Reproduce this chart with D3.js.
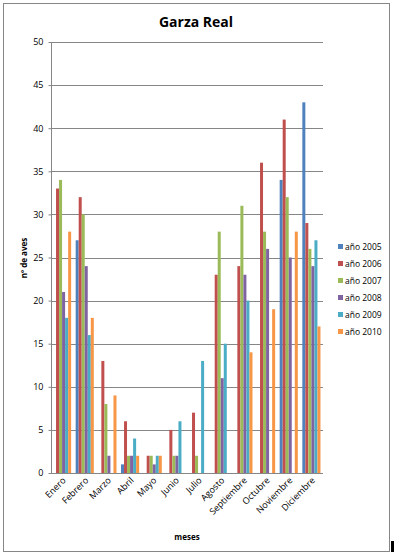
<!DOCTYPE html>
<html lang="en">
<head>
    <title>Garza Real</title>
    <script src="https://d3js.org/d3.v7.min.js"></script>
    <style>
        body { margin: 0; background: #fff; }
        text { font-family: "Open Sans", "DejaVu Sans", sans-serif; }
    </style>
</head>
<body>

<script>
    const meses = ["Enero", "Febrero", "Marzo", "Abril", "Mayo", "Junio", "Julio",
        "Agosto", "Septiembre", "Octubre", "Noviembre", "Diciembre"];
    const series = ["año 2005", "año 2006", "año 2007", "año 2008", "año 2009", "año 2010"];

    const ano2005 = [null, 27, null, 1, null, null, null, null, null, null, 34, 43];
    const ano2006 = [33, 32, 13, 6, 2, 5, 7, 23, 24, 36, 41, 29];
    const ano2007 = [34, 30, 8, 2, 2, 2, 2, 28, 31, 28, 32, 26];
    const ano2008 = [21, 24, 2, 2, 1, 2, null, 11, 23, 26, 25, 24];
    const ano2009 = [18, 16, null, 4, 2, 6, 13, 15, 20, null, null, 27];
    const ano2010 = [28, 18, 9, 2, 2, null, null, null, 14, 19, 28, 17];
    const yTicks = [0, 5, 10, 15, 20, 25, 30, 35, 40, 45, 50];

    const values = [ano2005, ano2006, ano2007, ano2008, ano2009, ano2010];
    const colors = ["#4F81BD", "#C0504D", "#9BBB59", "#8064A2", "#4BACC6", "#F79646"];

    const svg = d3.select("body").append("svg").attr("width", 395).attr("height", 556);

    // marco
    svg.append("rect")
            .attr("x", 3.5).attr("y", 3.5).attr("width", 386).attr("height", 548)
            .attr("fill", "#fff").attr("stroke", "#868686");
    svg.append("rect").attr("x", 391).attr("y", 541).attr("width", 3).attr("height", 11).attr("fill", "#000");

    const x = d3.scaleBand().domain(meses).range([51, 323]).paddingInner(0).paddingOuter(0);
    const xs = d3.scaleBand().domain(series).range([2, x.bandwidth() - 2.5]);
    const y = d3.scaleLinear().domain([0, 50]).range([473, 42]);

    // rejilla
    svg.append("g").selectAll("line").data(yTicks.filter(d => d > 0)).enter()
            .append("line")
            .attr("x1", 51).attr("x2", 323)
            .attr("y1", d => Math.round(y(d)) + 0.5).attr("y2", d => Math.round(y(d)) + 0.5)
            .attr("stroke", "#868686");

    // barras
    const groups = svg.append("g").selectAll("g").data(meses).enter()
            .append("g")
            .attr("transform", d => `translate(${x(d)},0)`);
    groups.selectAll("rect")
            .data((m, i) => series.map((s, j) => ({s: s, v: values[j][i], c: colors[j]})).filter(d => d.v !== null))
            .enter().append("rect")
            .attr("x", d => xs(d.s))
            .attr("width", 3)
            .attr("y", d => y(d.v))
            .attr("height", d => y(0) - y(d.v))
            .attr("fill", d => d.c);

    // eje y
    const yAxis = svg.append("g").attr("transform", "translate(51.5,0)")
            .call(d3.axisLeft(y).tickValues(yTicks).tickSize(3).tickPadding(5));
    yAxis.selectAll("line, path").attr("stroke", "#868686");
    yAxis.select(".domain").attr("d", `M0,${y(50)}V${y(0) + 0.5}`);
    yAxis.selectAll("text").attr("font-size", 9).attr("fill", "#000")
            .attr("font-family", "'Open Sans', sans-serif");

    // eje x
    svg.append("line").attr("x1", 51).attr("x2", 323)
            .attr("y1", 473.5).attr("y2", 473.5).attr("stroke", "#868686");
    svg.append("g").selectAll("text").data(meses).enter()
            .append("text")
            .attr("transform", d => `translate(${x(d) + x.bandwidth() / 2 + 4},481) rotate(-45)`)
            .attr("text-anchor", "end")
            .attr("font-size", 9)
            .text(d => d);

    // títulos
    svg.append("text").attr("x", 196).attr("y", 27).attr("text-anchor", "middle")
            .attr("font-size", 14).attr("font-weight", "bold").text("Garza Real");
    svg.append("text").attr("transform", "translate(27,258) rotate(-90)").attr("text-anchor", "middle")
            .attr("font-size", 8).attr("font-weight", "bold").text("nº de aves");
    svg.append("text").attr("x", 187).attr("y", 540).attr("text-anchor", "middle")
            .attr("font-size", 8).attr("font-weight", "bold").text("meses");

    // leyenda
    const legend = svg.append("g").selectAll("g").data(series).enter()
            .append("g")
            .attr("transform", (d, i) => `translate(338,${248 + i * 17})`);
    legend.append("rect").attr("x", 0).attr("y", -4).attr("width", 5).attr("height", 5)
            .attr("fill", (d, i) => colors[i]);
    legend.append("text").attr("x", 7).attr("y", 1.5).attr("font-size", 8.5).text(d => d);
</script>

</body>
</html>
